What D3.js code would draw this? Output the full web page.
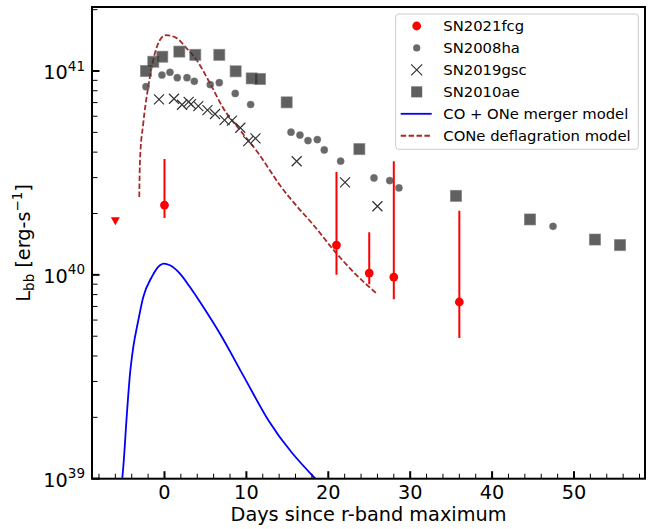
<!DOCTYPE html>
<html>
<head>
<meta charset="utf-8">
<script src="https://cdn.jsdelivr.net/npm/d3@7"></script>
<style>
  html, body { margin: 0; padding: 0; background: #fff; }
  svg { display: block; font-family: "DejaVu Sans", sans-serif; }
</style>
</head>
<body>
<svg id="chart" width="665" height="529"></svg>
<script>
// ---------------- DATA ----------------
// SN2021fcg (red, with error bars)
const fcgDays = [0, 21, 25, 28, 36];
const fcgLum  = [2.20e40, 1.40e40, 1.02e40, 9.75e39, 7.36e39];
const fcgLo   = [1.90e40, 1.00e40, 9.00e39, 7.60e39, 4.90e39];
const fcgHi   = [3.70e40, 3.20e40, 1.62e40, 3.61e40, 2.06e40];
// SN2021fcg upper limit
const limDays = [-6];
const limLum  = [1.84e40];

// SN2008ha (grey circles)
const haDays = [-2.26, -0.31, 0.67, 1.56, 2.75, 3.64, 5.59, 6.69, 8.64, 10.52, 15.45, 16.54, 17.52, 18.66, 19.51, 21.51, 25.58, 27.5, 28.63, 47.44];
const haLum  = [8.38e40, 9.56e40, 9.86e40, 9.27e40, 9.27e40, 8.90e40, 8.57e40, 8.77e40, 7.76e40, 6.85e40, 5.01e40, 4.85e40, 4.56e40, 4.61e40, 4.10e40, 3.61e40, 2.99e40, 2.90e40, 2.67e40, 1.73e40];

// SN2019gsc (crosses)
const gscDays = [-0.67, 1.16, 2.14, 2.95, 3.24, 4.13, 5.25, 6.17, 7.33, 8.24, 9.26, 10.23, 11.11, 16.14, 22.04, 26.0];
const gscLum  = [7.26e40, 7.31e40, 6.83e40, 7.06e40, 6.88e40, 6.73e40, 6.43e40, 6.15e40, 5.74e40, 5.71e40, 5.27e40, 4.53e40, 4.67e40, 3.61e40, 2.84e40, 2.17e40];

// SN2010ae (grey squares)
const aeDays = [-2.26, -1.37, -0.27, 1.81, 3.76, 6.69, 8.69, 10.65, 11.66, 14.92, 23.79, 35.59, 44.63, 52.56, 55.62];
const aeLum  = [1.00e41, 1.11e41, 1.175e41, 1.245e41, 1.20e41, 1.20e41, 9.97e40, 9.20e40, 9.14e40, 7.02e40, 4.14e40, 2.44e40, 1.87e40, 1.49e40, 1.40e40];

// CO + ONe merger model (blue)
const mergDays = [-5.15, -5.03, -4.62, -4.21, -3.81, -3.20, -2.59, -1.56, -0.55, -0.06, 0.67, 1.89, 3.11, 4.74, 6.78, 9.71, 12.70, 18.42];
const mergLum  = [1.01e39, 1.14e39, 2.0e39, 3.27e39, 4.42e39, 5.97e39, 7.78e39, 9.75e39, 1.114e40, 1.135e40, 1.114e40, 1.014e40, 8.71e39, 6.95e39, 5.14e39, 3.16e39, 1.93e39, 1.0e39];

// CONe deflagration model (brown dashed)
const defDays = [-3.08, -2.99, -2.59, -1.98, -1.16, -0.55, 0.18, 1.49, 2.71, 3.93, 5.56, 7.18, 9.22, 11.66, 12.9, 14.10, 16.0, 18.17, 20.61, 23.05, 25.91];
const defLum  = [2.41e40, 3.66e40, 5.53e40, 8.38e40, 1.225e41, 1.42e41, 1.50e41, 1.45e41, 1.29e41, 1.13e41, 8.7e40, 6.57e40, 5.13e40, 3.85e40, 3.24e40, 2.75e40, 2.21e40, 1.76e40, 1.33e40, 1.035e40, 8.09e39];

const xTicks = [0, 10, 20, 30, 40, 50];
const yTicks = [1e39, 1e40, 1e41];
const yTickExp = ["39", "40", "41"];
const legendLabels = ["SN2021fcg", "SN2008ha", "SN2019gsc", "SN2010ae", "CO + ONe merger model", "CONe deflagration model"];

// ---------------- LAYOUT ----------------
const L = 92, R = 645, T = 7, B = 478.7;
const svg = d3.select("#chart");
const x = d3.scaleLinear().domain([-8.85, 58.67]).range([L, R]);
const y = d3.scaleLog().domain([1e39, Math.pow(10, 41.314)]).range([B, T]);

svg.append("defs").append("clipPath").attr("id", "clip")
  .append("rect").attr("x", L).attr("y", T).attr("width", R - L).attr("height", B - T);

const plot = svg.append("g").attr("clip-path", "url(#clip)");

// Model lines
const line = d3.line().x(d => x(d[0])).y(d => y(d[1])).curve(d3.curveMonotoneX);
plot.append("path").datum(mergDays.map((d, i) => [d, mergLum[i]]))
  .attr("d", line).attr("fill", "none").attr("stroke", "#0000ff").attr("stroke-width", 1.8);
plot.append("path").datum(defDays.map((d, i) => [d, defLum[i]]))
  .attr("d", line).attr("fill", "none").attr("stroke", "#a52a2a").attr("stroke-width", 1.8)
  .attr("stroke-dasharray", "5.5,2.4");

// SN2010ae squares
const sq = 11;
plot.append("g").selectAll("rect").data(aeDays.map((d, i) => [d, aeLum[i]])).join("rect")
  .attr("x", d => x(d[0]) - sq / 2).attr("y", d => y(d[1]) - sq / 2)
  .attr("width", sq).attr("height", sq)
  .attr("fill", "#333").attr("fill-opacity", 0.78)
  .attr("stroke", "#777").attr("stroke-opacity", 0.6).attr("stroke-width", 1);

// SN2008ha circles
plot.append("g").selectAll("circle").data(haDays.map((d, i) => [d, haLum[i]])).join("circle")
  .attr("cx", d => x(d[0])).attr("cy", d => y(d[1])).attr("r", 3.6)
  .attr("fill", "#444").attr("fill-opacity", 0.8)
  .attr("stroke", "#777").attr("stroke-opacity", 0.5).attr("stroke-width", 0.8);

// SN2019gsc crosses
const cx = 5;
const gx = plot.append("g").attr("stroke", "#333").attr("stroke-width", 1.2);
gscDays.forEach((d, i) => {
  const px = x(d), py = y(gscLum[i]);
  gx.append("path").attr("d", `M${px - cx},${py - cx}L${px + cx},${py + cx}M${px - cx},${py + cx}L${px + cx},${py - cx}`);
});

// SN2021fcg error bars + points
const ge = plot.append("g");
fcgDays.forEach((d, i) => {
  ge.append("line").attr("x1", x(d)).attr("x2", x(d))
    .attr("y1", y(fcgLo[i])).attr("y2", y(fcgHi[i]))
    .attr("stroke", "#ff0000").attr("stroke-width", 2);
});
ge.selectAll("circle").data(fcgDays.map((d, i) => [d, fcgLum[i]])).join("circle")
  .attr("cx", d => x(d[0])).attr("cy", d => y(d[1])).attr("r", 4.4).attr("fill", "#ff0000");
// upper limit triangle
limDays.forEach((d, i) => {
  const px = x(d), py = y(limLum[i]);
  ge.append("path").attr("d", `M${px - 4.5},${py - 3.5}L${px + 4.5},${py - 3.5}L${px},${py + 4.5}Z`).attr("fill", "#ff0000");
});

// ---------------- AXES ----------------
const ax = svg.append("g");
// x ticks (inward)
const xMinor = d3.range(-8, 59, 2).filter(v => v % 10 !== 0);
xMinor.forEach(v => {
  ax.append("line").attr("x1", x(v)).attr("x2", x(v)).attr("y1", B).attr("y2", B - 5)
    .attr("stroke", "#000").attr("stroke-width", 1);
});
xTicks.forEach(v => {
  ax.append("line").attr("x1", x(v)).attr("x2", x(v)).attr("y1", B).attr("y2", B - 7.5)
    .attr("stroke", "#000").attr("stroke-width", 2);
  ax.append("text").attr("x", x(v)).attr("y", 498.5).attr("text-anchor", "middle")
    .attr("font-size", 19.3).text(v);
});
// y ticks
const yMinor = [];
[39, 40, 41].forEach(e => { for (let m = 2; m <= 9; m++) { const v = m * Math.pow(10, e); if (v <= y.domain()[1]) yMinor.push(v); } });
yMinor.forEach(v => {
  ax.append("line").attr("x1", L).attr("x2", L + 5.5).attr("y1", y(v)).attr("y2", y(v))
    .attr("stroke", "#000").attr("stroke-width", 1);
});
yTicks.forEach((v, i) => {
  ax.append("line").attr("x1", L).attr("x2", L + 7.5).attr("y1", y(v)).attr("y2", y(v))
    .attr("stroke", "#000").attr("stroke-width", 2);
  const t = ax.append("text").attr("x", 85).attr("y", y(v) + 8).attr("text-anchor", "end").attr("font-size", 19.3);
  t.append("tspan").text("10");
  t.append("tspan").attr("font-size", 13.5).attr("dy", -8.5).text(yTickExp[i]);
});
// frame
svg.append("rect").attr("x", L).attr("y", T).attr("width", R - L).attr("height", B - T)
  .attr("fill", "none").attr("stroke", "#000").attr("stroke-width", 2);

// axis labels
svg.append("text").attr("x", (L + R) / 2).attr("y", 521).attr("text-anchor", "middle")
  .attr("font-size", 19.3).text("Days since r-band maximum");
const yl = svg.append("text").attr("transform", `translate(30,${(T + B) / 2}) rotate(-90)`)
  .attr("text-anchor", "middle").attr("font-size", 19.3);
yl.append("tspan").text("L");
yl.append("tspan").attr("font-size", 13.5).attr("dy", 4).text("bb");
yl.append("tspan").attr("dy", -4).text(" [erg-s");
yl.append("tspan").attr("font-size", 13.5).attr("dy", -8).text("\u22121");
yl.append("tspan").attr("dy", 8).text("]");

// ---------------- LEGEND ----------------
const lg = svg.append("g");
lg.append("rect").attr("x", 395.7).attr("y", 14).attr("width", 242.6).attr("height", 135.3)
  .attr("rx", 3).attr("fill", "#fff").attr("fill-opacity", 0.8).attr("stroke", "#cccccc").attr("stroke-width", 1);
const rowY = i => 26 + i * 21.95;
const mx = 416.7;
lg.append("circle").attr("cx", mx).attr("cy", rowY(0)).attr("r", 4.4).attr("fill", "#ff0000");
lg.append("circle").attr("cx", mx).attr("cy", rowY(1)).attr("r", 3.6).attr("fill", "#444").attr("fill-opacity", 0.8);
lg.append("path").attr("d", `M${mx - 5.5},${rowY(2) - 5.5}L${mx + 5.5},${rowY(2) + 5.5}M${mx - 5.5},${rowY(2) + 5.5}L${mx + 5.5},${rowY(2) - 5.5}`)
  .attr("stroke", "#333").attr("stroke-width", 1.2);
lg.append("rect").attr("x", mx - 5.5).attr("y", rowY(3) - 5.5).attr("width", 11).attr("height", 11)
  .attr("fill", "#333").attr("fill-opacity", 0.78);
lg.append("line").attr("x1", 400.7).attr("x2", 431.7).attr("y1", rowY(4)).attr("y2", rowY(4))
  .attr("stroke", "#0000ff").attr("stroke-width", 1.8);
lg.append("line").attr("x1", 400.7).attr("x2", 431.7).attr("y1", rowY(5)).attr("y2", rowY(5))
  .attr("stroke", "#a52a2a").attr("stroke-width", 1.8).attr("stroke-dasharray", "5.5,2.4");
legendLabels.forEach((s, i) => {
  lg.append("text").attr("x", 443.3).attr("y", rowY(i) + 5.4).attr("font-size", 14.8).text(s);
});
</script>
</body>
</html>
